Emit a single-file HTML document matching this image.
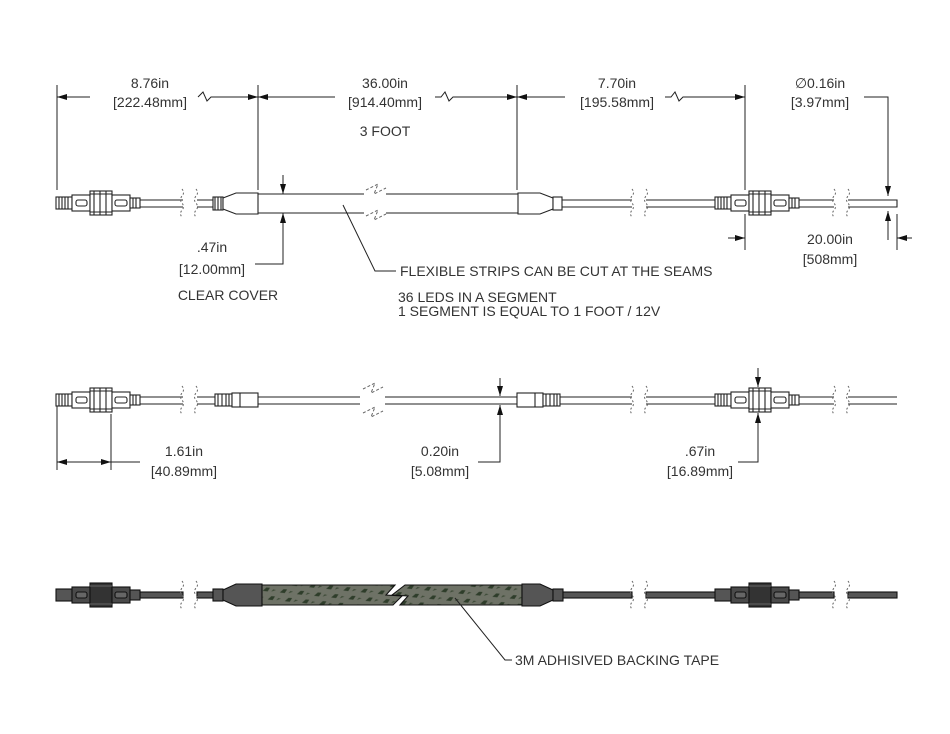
<!DOCTYPE html>
<html><head><meta charset="utf-8"><style>
html,body{margin:0;padding:0;background:#fff}
svg{display:block}
text{font-family:"Liberation Sans",sans-serif;font-size:14px;fill:#333}
</style></head><body>
<svg width="950" height="734" viewBox="0 0 950 734" xmlns="http://www.w3.org/2000/svg">
<defs>
<marker id="a" viewBox="0 0 10 6" refX="10" refY="3" markerWidth="10" markerHeight="6" orient="auto-start-reverse" markerUnits="userSpaceOnUse"><path d="M0,0L10,3L0,6z" fill="#111"/></marker>
<pattern id="tape" width="14" height="10" patternUnits="userSpaceOnUse" patternTransform="rotate(-30)">
<rect width="14" height="10" fill="#6e7266"/><path d="M2,3l5,-1l3,2l-4,2z" fill="#2e3d2a"/><path d="M9,8l3,-1l2,2z" fill="#3c4a36"/></pattern>
<g id="conn" stroke="#222" stroke-width="1.1">
<rect x="6" y="-6" width="16" height="12" fill="#fff"/>
<path d="M9,-6v12M12,-6v12M15,-6v12M18,-6v12" />
<rect x="22" y="-8" width="18" height="16" fill="#fff"/>
<rect x="26" y="-3" width="11" height="6" rx="2" fill="#fff"/>
<rect x="40" y="-12" width="22" height="24" fill="#fff"/>
<path d="M44,-12v24M50,-12v24M56,-12v24M40,-9h22M40,9h22"/>
<rect x="62" y="-8" width="18" height="16" fill="#fff"/>
<rect x="65" y="-3" width="12" height="6" rx="2" fill="#fff"/>
<rect x="80" y="-5" width="10" height="10" fill="#fff"/>
<path d="M83,-5v10M86,-5v10"/>
</g>
<g id="connd" stroke="#111" stroke-width="1.1">
<rect x="6" y="-6" width="16" height="12" fill="#555"/>
<rect x="22" y="-8" width="18" height="16" fill="#4a4a4a"/>
<rect x="26" y="-3" width="11" height="6" rx="2" fill="#666"/>
<rect x="40" y="-12" width="22" height="24" fill="#333"/>
<path d="M40,-9h22M40,9h22" stroke="#666"/>
<rect x="62" y="-8" width="18" height="16" fill="#4a4a4a"/>
<rect x="65" y="-3" width="12" height="6" rx="2" fill="#666"/>
<rect x="80" y="-5" width="10" height="10" fill="#555"/>
</g>
<g id="brk" fill="none" stroke="#666" stroke-width="1" stroke-dasharray="2,2">
<path d="M0,-14q3,4 0,7q-3,4 0,7q3,4 0,7q-3,4 0,7"/>
<path d="M14,-14q3,4 0,7q-3,4 0,7q3,4 0,7q-3,4 0,7"/>
</g>
</defs>

<!-- ROW 1 -->
<g stroke="#222" stroke-width="1.1" fill="#fff">
<path d="M140,200H183M140,207H183M197,200H213M197,207H213"/>
<use href="#conn" x="50" y="203"/>
<use href="#brk" x="182" y="203"/>
<rect x="213" y="197" width="10" height="13"/>
<path d="M215,197v13M218,197v13M221,197v13"/>
<path d="M223,198L236,193H258V214H236L223,209z"/>
<path d="M258,194H364M258,213H364M386,194H518M386,213H518"/>
<path d="M518,193H540L553,198V209L540,214H518z"/>
<rect x="553" y="197" width="9" height="13"/>
<path d="M562,200H632M562,207H632M646,200H718M646,207H718"/>
<use href="#brk" x="632" y="203"/>
<use href="#conn" x="709" y="203"/>
<path d="M799,200H834M799,207H834M848,200H897V207H848"/>
<use href="#brk" x="834" y="203"/>
</g>
<g fill="none" stroke="#666" stroke-dasharray="3,2"><path d="M366,190l12,-6l-4,10l12,-6M366,216l12,-6l-4,10l12,-6"/></g>

<g stroke="#222" stroke-width="1" fill="none">
<path d="M57,85V190M258,85V190M517,85V190M745,85V190"/>
<path d="M57,97H90" marker-start="url(#a)"/>
<path d="M198,97l5,-5l4,9l4,-4H258" marker-end="url(#a)"/>
<path d="M258,97H335" marker-start="url(#a)"/>
<path d="M435,97h6l4,-5l4,9l4,-4H517" marker-end="url(#a)"/>
<path d="M517,97H565" marker-start="url(#a)"/>
<path d="M665,97h6l4,-5l4,9l4,-4H745" marker-end="url(#a)"/>
<path d="M864,97H888V196" marker-end="url(#a)"/>
<path d="M888,240V211" marker-end="url(#a)"/>
<path d="M745,214V250M897,214V250"/>
<path d="M728,238H745" marker-end="url(#a)"/>
<path d="M912,238H897" marker-end="url(#a)"/>
<path d="M283,175V194" marker-end="url(#a)"/>
<path d="M255,264H283V213" marker-end="url(#a)"/>
<path d="M343,205L375,271H396"/>
</g>
<text x="150" y="88" text-anchor="middle">8.76in</text>
<text x="150" y="107" text-anchor="middle">[222.48mm]</text>
<text x="385" y="88" text-anchor="middle">36.00in</text>
<text x="385" y="107" text-anchor="middle">[914.40mm]</text>
<text x="385" y="136" text-anchor="middle">3 FOOT</text>
<text x="617" y="88" text-anchor="middle">7.70in</text>
<text x="617" y="107" text-anchor="middle">[195.58mm]</text>
<text x="820" y="88" text-anchor="middle">∅0.16in</text>
<text x="820" y="107" text-anchor="middle">[3.97mm]</text>
<text x="830" y="244" text-anchor="middle">20.00in</text>
<text x="830" y="264" text-anchor="middle">[508mm]</text>
<text x="212" y="252" text-anchor="middle">.47in</text>
<text x="212" y="274" text-anchor="middle">[12.00mm]</text>
<text x="228" y="300" text-anchor="middle">CLEAR COVER</text>
<text x="400" y="276">FLEXIBLE STRIPS CAN BE CUT AT THE SEAMS</text>
<text x="398" y="302">36 LEDS IN A SEGMENT</text>
<text x="398" y="316">1 SEGMENT IS EQUAL TO 1 FOOT / 12V</text>

<!-- ROW 2 -->
<g stroke="#222" stroke-width="1.1" fill="#fff">
<path d="M140,397H183M140,404H183M197,397H215M197,404H215"/>
<use href="#conn" x="50" y="400"/>
<use href="#brk" x="182" y="400"/>
<rect x="215" y="394" width="17" height="12"/>
<path d="M218,394v12M222,394v12M226,394v12M229,394v12"/>
<rect x="232" y="393" width="26" height="14"/><path d="M240,393v14"/>
<path d="M258,397H360M258,404H360M385,397H517M385,404H517"/>
<rect x="517" y="393" width="26" height="14"/><path d="M535,393v14"/>
<rect x="543" y="394" width="17" height="12"/>
<path d="M546,394v12M550,394v12M554,394v12M557,394v12"/>
<path d="M560,397H632M560,404H632M646,397H718M646,404H718"/>
<use href="#brk" x="632" y="400"/>
<use href="#conn" x="709" y="400"/>
<path d="M799,397H834M799,404H834M848,397H897M848,404H897"/>
<use href="#brk" x="834" y="400"/>
</g>
<g fill="none" stroke="#666" stroke-dasharray="3,2"><path d="M363,389l12,-6l-4,10l12,-6M363,413l12,-6l-4,10l12,-6"/></g>
<g stroke="#222" stroke-width="1" fill="none">
<path d="M57,406V470M111,414V470"/>
<path d="M57,462H111" marker-start="url(#a)" marker-end="url(#a)"/>
<path d="M111,462H140"/>
<path d="M500,378V396" marker-end="url(#a)"/>
<path d="M478,462H500V405" marker-end="url(#a)"/>
<path d="M758,368V387" marker-end="url(#a)"/>
<path d="M738,462H758V413" marker-end="url(#a)"/>
</g>
<text x="184" y="456" text-anchor="middle">1.61in</text>
<text x="184" y="476" text-anchor="middle">[40.89mm]</text>
<text x="440" y="456" text-anchor="middle">0.20in</text>
<text x="440" y="476" text-anchor="middle">[5.08mm]</text>
<text x="700" y="456" text-anchor="middle">.67in</text>
<text x="700" y="476" text-anchor="middle">[16.89mm]</text>

<!-- ROW 3 -->
<g stroke="#111" stroke-width="1.1">
<rect x="140" y="592" width="43" height="6" fill="#555"/>
<rect x="197" y="592" width="16" height="6" fill="#555"/>
<use href="#connd" x="50" y="595"/>
<use href="#brk" x="182" y="595"/>
<rect x="213" y="589" width="10" height="12" fill="#555"/>
<path d="M223,590L236,584H262V606H236L223,600z" fill="#555"/>
<path d="M262,585H395L386,595L402,596L393,605H262z" fill="url(#tape)"/>
<path d="M405,585H522V605H400L408,596L392,595z" fill="url(#tape)"/>
<path d="M522,584H540L553,590V600L540,606H522z" fill="#555"/>
<rect x="553" y="589" width="10" height="12" fill="#555"/>
<rect x="563" y="592" width="69" height="6" fill="#555"/>
<rect x="646" y="592" width="72" height="6" fill="#555"/>
<use href="#brk" x="632" y="595"/>
<use href="#connd" x="709" y="595"/>
<rect x="799" y="592" width="35" height="6" fill="#555"/>
<rect x="848" y="592" width="49" height="6" fill="#555"/>
<use href="#brk" x="834" y="595"/>
</g>
<path d="M455,598L505,660H512" stroke="#222" fill="none"/>
<text x="515" y="665">3M ADHISIVED BACKING TAPE</text>
</svg>
</body></html>
